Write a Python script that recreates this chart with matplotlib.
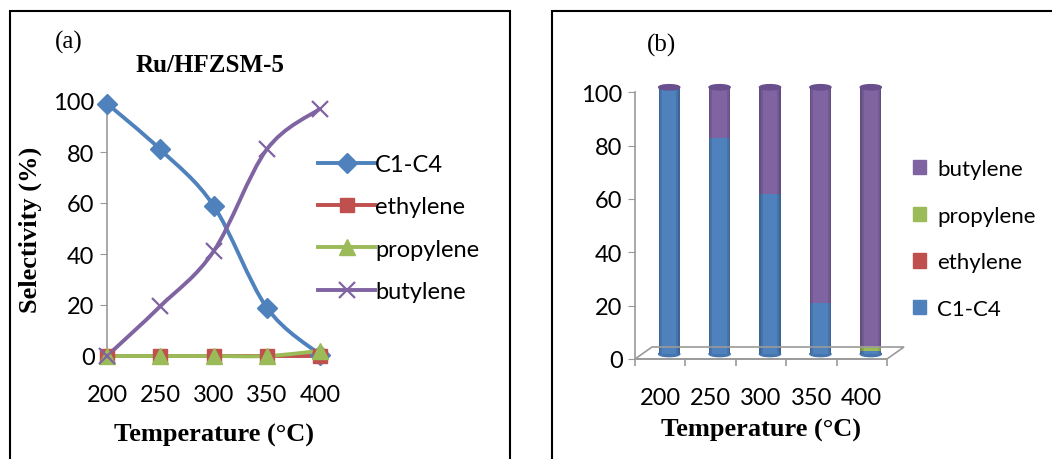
import matplotlib
matplotlib.use("Agg")
import matplotlib.pyplot as plt
import matplotlib.transforms as mtransforms
from matplotlib.path import Path
from matplotlib.patches import PathPatch, Rectangle, Ellipse, Polygon
from matplotlib.lines import Line2D
import numpy as np

plt.rcParams['font.family'] = ['Lato', 'DejaVu Sans']

# data
temps = [200, 250, 300, 350, 400]
c1_c4 = [99, 81, 59, 19, 0.5]
ethylene = [0, 0, 0, 0, 0]
propylene = [0, 0, 0, 0, 2]
butylene = [0, 19.5, 41, 81, 97]

bar_c1_c4 = [100, 81, 60, 19, 1]
bar_ethylene = [0, 0, 0, 0, 0]
bar_propylene = [0, 0, 0, 0, 2]
bar_butylene = [0, 19, 40, 81, 97]

BLUE = '#4F81BD'
RED = '#C0504D'
GREEN = '#9BBB59'
PURPLE = '#8064A2'
GRAY = '#9a9a9a'
serif = ['Liberation Serif', 'DejaVu Serif']

fig = plt.figure(figsize=(10.52, 4.6), dpi=100)
W, H = 1052, 460

def fx(px):
    return px / W

def fy(py):
    return 1 - py / H

# panel frames
fig.patches.append(Rectangle((fx(10), fy(470)), fx(500), fy(12) - fy(470),
                             transform=fig.transFigure, fill=False, lw=1.5, ec='black'))
fig.patches.append(Rectangle((fx(552), fy(470)), fx(510), fy(12) - fy(470),
                             transform=fig.transFigure, fill=False, lw=1.5, ec='black'))


def smooth_path(xs, ys):
    # Catmull-Rom style bezier through the points (Excel "smoothed line")
    pts = np.column_stack([xs, ys]).astype(float)
    n = len(pts)
    verts = [pts[0]]
    codes = [Path.MOVETO]
    for i in range(n - 1):
        p0 = pts[i - 1] if i > 0 else pts[i]
        p1 = pts[i]
        p2 = pts[i + 1]
        p3 = pts[i + 2] if i + 2 < n else pts[i + 1]
        c1 = p1 + (p2 - p0) / 6.0
        c2 = p2 - (p3 - p1) / 6.0
        verts += [c1, c2, p2]
        codes += [Path.CURVE4] * 3
    return Path(verts, codes)


# ---------- panel (a) ----------
ax = fig.add_axes([fx(107), fy(357), fx(320) - fx(107), fy(102) - fy(357)])
series = [
    ('C1-C4', c1_c4, BLUE, 'D', 10),
    ('ethylene', ethylene, RED, 's', 10),
    ('propylene', propylene, GREEN, '^', 11),
    ('butylene', butylene, PURPLE, 'x', 12),
]
handles = []
for name, vals, col, mk, ms in series:
    ax.add_patch(PathPatch(smooth_path(temps, vals), fill=False, ec=col, lw=2.8,
                           clip_on=False, zorder=3))
    ax.plot(temps, vals, ls='none', marker=mk, ms=ms, color=col, mec=col,
            mew=1.6 if mk == 'x' else 1, clip_on=False, zorder=4)
    handles.append(Line2D([], [], color=col, lw=2.8, marker=mk, ms=ms, mec=col,
                          mew=1.6 if mk == 'x' else 1))

ax.set_xlim(200, 400)
ax.set_ylim(0, 100)
ax.set_xticks(temps)
ax.set_yticks([0, 20, 40, 60, 80, 100])
for s in ['top', 'right']:
    ax.spines[s].set_visible(False)
ax.spines['left'].set_color(GRAY)
ax.spines['bottom'].set_color(GRAY)
ax.spines['left'].set_linewidth(1.2)
ax.spines['bottom'].set_linewidth(1.2)
ax.tick_params(axis='y', colors=GRAY, labelcolor='black', labelsize=17, length=5, pad=4)
ax.tick_params(axis='x', length=0, labelsize=17, pad=20)
ax.set_ylabel('Selectivity (%)', family=serif, fontweight='bold', fontsize=19, labelpad=8)
ax.set_xlabel('Temperature (°C)', family=serif, fontweight='bold', fontsize=19, labelpad=13)
fig.text(fx(210), fy(66), 'Ru/HFZSM-5', family=serif, fontweight='bold', fontsize=18,
         ha='center', va='center')
fig.text(fx(69), fy(42), '(a)', family=serif, fontsize=18, ha='center', va='center')
fig.legend(handles, [s[0] for s in series], loc='center left',
           bbox_to_anchor=(fx(297), fy(229)), frameon=False, fontsize=17,
           handlelength=2.4, handletextpad=0.0, labelspacing=0.9)

# ---------- panel (b) ----------
bx = fig.add_axes([fx(635), fy(360), fx(887) - fx(635), fy(93.3) - fy(360)])
idx = np.arange(len(temps))
bx.set_xlim(-0.5, 4.5)
bx.set_ylim(0, 100)
shift = mtransforms.offset_copy(bx.transData, fig=fig, x=9, y=5, units='dots')

bw = 0.42
bottom = np.zeros(len(temps))
stack = [
    ('C1-C4', bar_c1_c4, BLUE),
    ('ethylene', bar_ethylene, RED),
    ('propylene', bar_propylene, GREEN),
    ('butylene', bar_butylene, PURPLE),
]

# floor of the 3-D plot area
d0 = bx.transData.transform([(-0.5, 0), (4.5, 0)])
back = mtransforms.offset_copy(bx.transData, fig=fig, x=17, y=12, units='dots')
b0 = back.transform([(-0.5, 0), (4.5, 0)])
pts = fig.transFigure.inverted().transform([d0[0], d0[1], b0[1], b0[0]])
fig.patches.append(Polygon(pts, closed=True, transform=fig.transFigure, fill=False,
                           ec=GRAY, lw=1.2, zorder=1))

for name, vals, col in stack:
    vals = np.array(vals, dtype=float)
    bx.bar(idx, vals, bw, bottom=bottom, color=col, transform=shift, zorder=3,
           clip_on=False, lw=0)
    bottom = bottom + vals

# cylinder shading: darker edges
for i in idx:
    for frac, alpha in [(0.16, 0.1), (0.07, 0.12)]:
        bx.add_patch(Rectangle((i - bw / 2, 0), bw * frac, bottom[i], color='black',
                               alpha=alpha, lw=0, transform=shift, zorder=3.5,
                               clip_on=False))
        bx.add_patch(Rectangle((i + bw / 2 - bw * frac, 0), bw * frac, bottom[i],
                               color='black', alpha=alpha, lw=0, transform=shift,
                               zorder=3.5, clip_on=False))

# rounded bottoms and tops of the cylinders
for i in idx:
    bx.add_patch(Ellipse((i, 0), bw, 2.0, color='#4674ad' if bar_c1_c4[i] > 0 else GREEN,
                         transform=shift, zorder=2, clip_on=False))
    bx.add_patch(Ellipse((i, bottom[i]), bw, 2.0, color='#6a4f8e',
                         transform=shift, zorder=4, clip_on=False))

bx.set_xticks(idx)
bx.set_xticklabels([str(t) for t in temps])
bx.set_xticks(np.arange(-0.5, 5.0, 1.0), minor=True)
bx.set_yticks([0, 20, 40, 60, 80, 100])
for s in ['top', 'right']:
    bx.spines[s].set_visible(False)
for s in ['left', 'bottom']:
    bx.spines[s].set_color(GRAY)
    bx.spines[s].set_linewidth(1.2)
bx.tick_params(axis='y', colors=GRAY, labelcolor='black', labelsize=17, length=5, pad=4)
bx.tick_params(axis='x', which='major', length=0, labelsize=17, pad=20)
bx.tick_params(axis='x', which='minor', colors=GRAY, length=5, width=1.2)
bx.set_xlabel('Temperature (°C)', family=serif, fontweight='bold', fontsize=19, labelpad=7)
fig.text(fx(662), fy(45), '(b)', family=serif, fontsize=18, ha='center', va='center')

leg_handles = [Rectangle((0, 0), 1, 1, color=c) for _, _, c in stack[::-1]]
fig.legend(leg_handles, [s[0] for s in stack[::-1]], loc='center left',
           bbox_to_anchor=(fx(893), fy(240)), frameon=False, fontsize=16,
           handlelength=0.6, handleheight=0.6, handletextpad=0.5, labelspacing=1.2)

fig.savefig('out.png', dpi=100)
